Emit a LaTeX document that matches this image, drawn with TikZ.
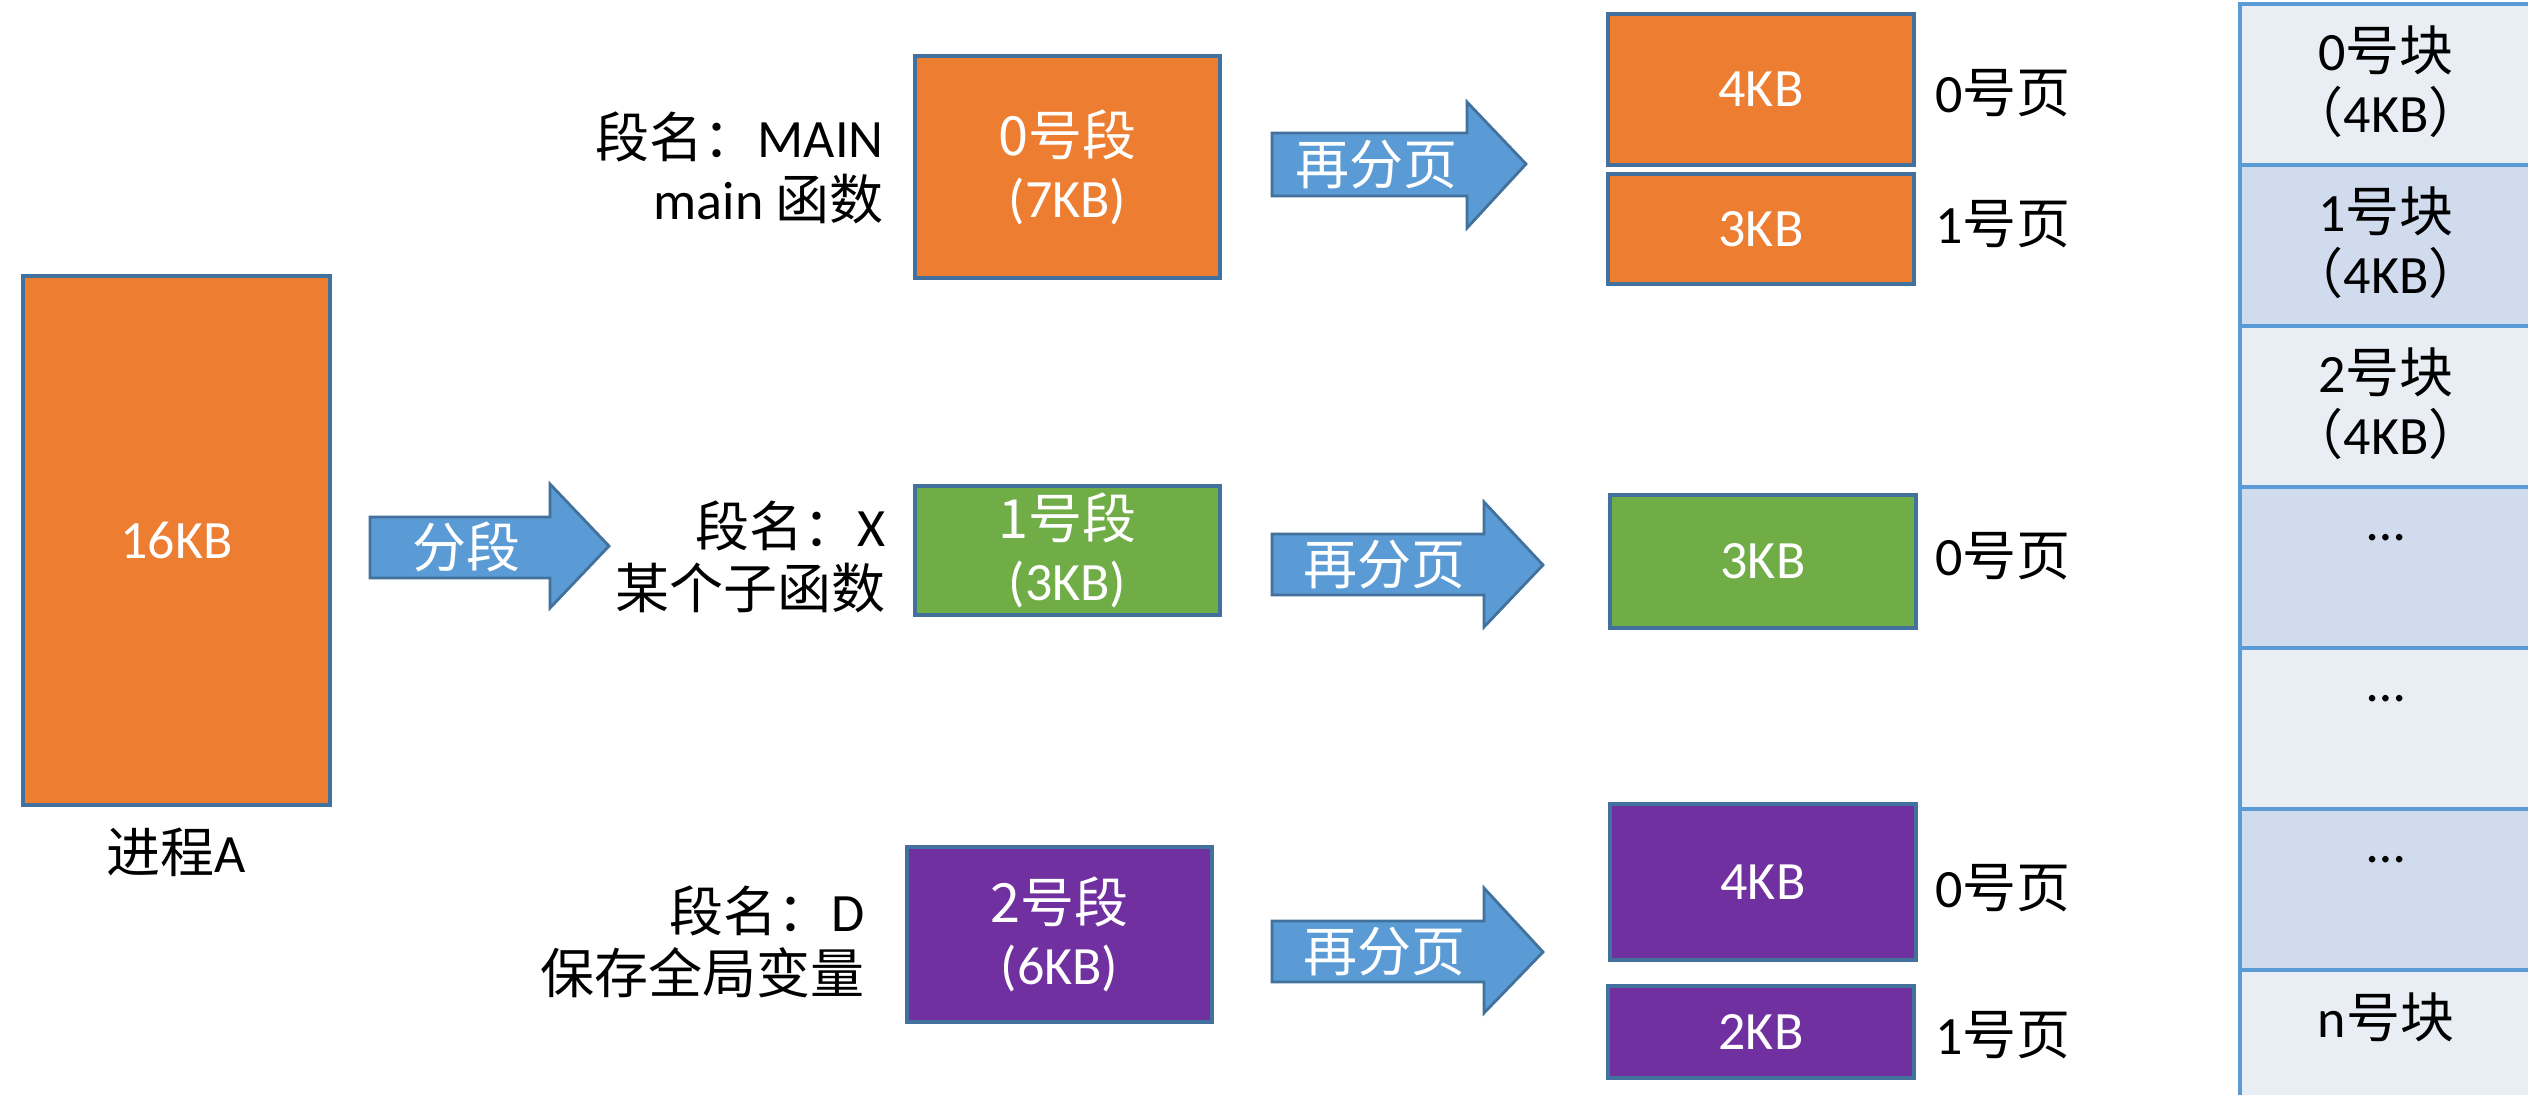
\documentclass[tikz,border=0pt]{standalone}
\usepackage{fontspec}
\setmainfont{Carlito}
\newfontfamily\cjk{Noto Sans CJK SC}
\definecolor{orgc}{HTML}{ED7D31}
\definecolor{grnc}{HTML}{70AD47}
\definecolor{purc}{HTML}{7030A0}
\definecolor{bordc}{HTML}{41719C}
\definecolor{arrc}{HTML}{5B9BD5}
\definecolor{blkA}{HTML}{E9EDF4}
\definecolor{blkB}{HTML}{D0DBEE}
\newcommand\fs{\fontsize{27}{31}\selectfont}
\begin{document}
\begin{tikzpicture}[x=0.5pt,y=-0.5pt,
  box/.style={draw=bordc,line width=1.6pt,text=white,font=\fs,align=center,inner sep=0pt},
  lbl/.style={font=\fs,text=black,inner sep=0pt,align=right},
  bigarrow/.style={draw=bordc,line width=1.4pt,fill=arrc},
  arrtxt/.style={font=\fs\cjk,text=white,inner sep=0pt},
  memblk/.style={draw=arrc,line width=2pt,minimum width=151pt,minimum height=80.5pt,anchor=north west,inner sep=0pt},
  memtxt/.style={font=\fs,text=black,align=center,inner sep=0pt}]
\useasboundingbox (0,0) rectangle (2528,1094);

% process
\node[box,fill=orgc,minimum width=153.5pt,minimum height=264.5pt] (proc) at (176.5,540.5) {16KB};
\node[lbl] (procl) at (176,852) {{\cjk 进程}A};

% segments
\node[box,fill=orgc,minimum width=152.5pt,minimum height=111pt] (seg0) at (1067.5,167) {{\cjk 0号段}\\(7KB)};
\node[box,fill=grnc,minimum width=152.5pt,minimum height=64.5pt] (seg1) at (1067.5,550.5) {{\cjk 1号段}\\(3KB)};
\node[box,fill=purc,minimum width=152.5pt,minimum height=87.5pt] (seg2) at (1059.5,934.5) {{\cjk 2号段}\\(6KB)};

% segment labels
\node[lbl,anchor=east] (l0) at (884,168) {{\cjk 段名：}MAIN\\main {\cjk 函数}};
\node[lbl,anchor=east] (l1) at (886,557) {{\cjk 段名：}X\\{\cjk 某个子函数}};
\node[lbl,anchor=east] (l2) at (865,942) {{\cjk 段名：}D\\{\cjk 保存全局变量}};

% pages
\node[box,fill=orgc,minimum width=153pt,minimum height=75.5pt] (p00) at (1761,89.5) {4KB};
\node[box,fill=orgc,minimum width=153pt,minimum height=55pt] (p01) at (1761,229) {3KB};
\node[box,fill=grnc,minimum width=153pt,minimum height=66.5pt] (p10) at (1763,561.5) {3KB};
\node[box,fill=purc,minimum width=153pt,minimum height=78pt] (p20) at (1763,882) {4KB};
\node[box,fill=purc,minimum width=153pt,minimum height=46pt] (p21) at (1761,1032) {2KB};

% page labels
\node[lbl,anchor=west] (pl00) at (1935,93) {0{\cjk 号页}};
\node[lbl,anchor=west] (pl01) at (1935,224) {1{\cjk 号页}};
\node[lbl,anchor=west] (pl10) at (1935,556) {0{\cjk 号页}};
\node[lbl,anchor=west] (pl20) at (1935,888) {0{\cjk 号页}};
\node[lbl,anchor=west] (pl21) at (1935,1035) {1{\cjk 号页}};

% block arrows
\draw[bigarrow] (370,517) -- (550,517) -- (550,484) -- (609,546) -- (550,608) -- (550,578) -- (370,578) -- cycle;
\node[arrtxt] (a0) at (466,547) {分段};
\draw[bigarrow] (1272,133) -- (1467,133) -- (1467,102) -- (1526,164) -- (1467,228) -- (1467,196) -- (1272,196) -- cycle;
\node[arrtxt] (a1) at (1376,165) {再分页};
\draw[bigarrow] (1272,534) -- (1484,534) -- (1484,502) -- (1543,565) -- (1484,627) -- (1484,595) -- (1272,595) -- cycle;
\node[arrtxt] (a2) at (1384,565) {再分页};
\draw[bigarrow] (1272,921) -- (1484,921) -- (1484,888) -- (1543,952) -- (1484,1013) -- (1484,982) -- (1272,982) -- cycle;
\node[arrtxt] (a3) at (1384,952) {再分页};

% memory blocks
\node[memblk,fill=blkA] (m0) at (2238,2) {};
\node[memblk,fill=blkB] (m1) at (2238,163) {};
\node[memblk,fill=blkA] (m2) at (2238,324) {};
\node[memblk,fill=blkB] (m3) at (2238,485) {};
\node[memblk,fill=blkA] (m4) at (2238,646) {};
\node[memblk,fill=blkB] (m5) at (2238,807) {};
\node[memblk,fill=blkA] (m6) at (2238,968) {};

\node[memtxt] (t0) at (2386,82) {0{\cjk 号块}\\{\cjk （}4KB{\cjk ）}};
\node[memtxt] (t1) at (2386,243) {1{\cjk 号块}\\{\cjk （}4KB{\cjk ）}};
\node[memtxt] (t2) at (2386,404) {2{\cjk 号块}\\{\cjk （}4KB{\cjk ）}};
\node[memtxt] (t3) at (2386,538) {…};
\node[memtxt] (t4) at (2386,699) {…};
\node[memtxt] (t5) at (2386,860) {…};
\node[memtxt] (t6) at (2386,1017) {n{\cjk 号块}};
\end{tikzpicture}
\end{document}
